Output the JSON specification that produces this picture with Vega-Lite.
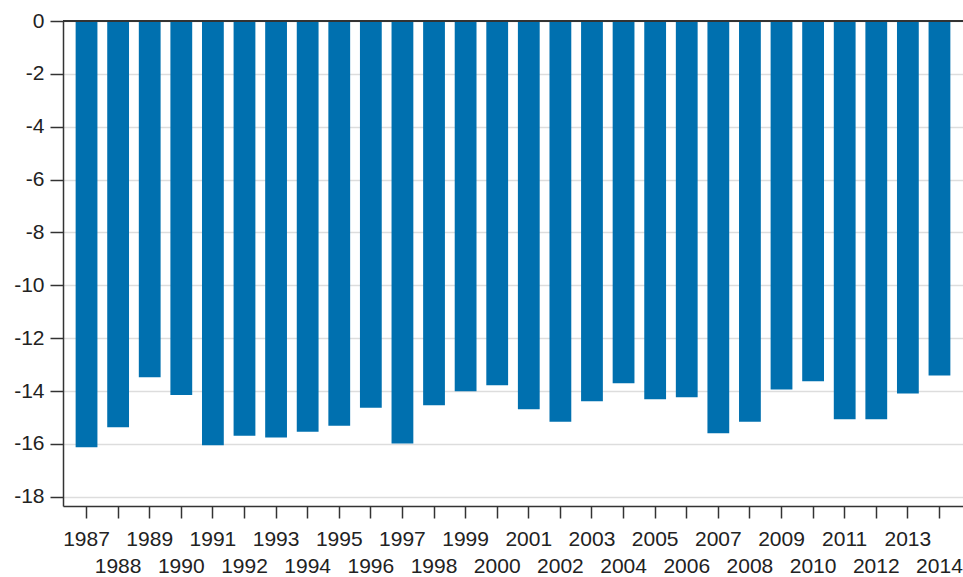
{
  "$schema": "https://vega.github.io/schema/vega-lite/v6.json",
  "width": 900,
  "height": 485,
  "autosize": {"type": "none"},
  "padding": {"left": 63, "top": 21, "right": 0, "bottom": 71},
  "background": "white",
  "config": {
    "view": {"stroke": null},
    "font": "Liberation Sans"
  },
  "data": {
    "values": [
      {"year": 1987, "value": -16.13},
      {"year": 1988, "value": -15.37},
      {"year": 1989, "value": -13.48},
      {"year": 1990, "value": -14.15},
      {"year": 1991, "value": -16.05},
      {"year": 1992, "value": -15.69},
      {"year": 1993, "value": -15.76},
      {"year": 1994, "value": -15.54},
      {"year": 1995, "value": -15.31},
      {"year": 1996, "value": -14.63},
      {"year": 1997, "value": -15.99},
      {"year": 1998, "value": -14.54},
      {"year": 1999, "value": -14.01},
      {"year": 2000, "value": -13.78},
      {"year": 2001, "value": -14.69},
      {"year": 2002, "value": -15.16},
      {"year": 2003, "value": -14.39},
      {"year": 2004, "value": -13.71},
      {"year": 2005, "value": -14.31},
      {"year": 2006, "value": -14.24},
      {"year": 2007, "value": -15.6},
      {"year": 2008, "value": -15.16},
      {"year": 2009, "value": -13.94},
      {"year": 2010, "value": -13.63},
      {"year": 2011, "value": -15.07},
      {"year": 2012, "value": -15.07},
      {"year": 2013, "value": -14.09},
      {"year": 2014, "value": -13.41}
    ]
  },
  "layer": [
    {
      "mark": {"type": "bar", "color": "#0070af"},
      "encoding": {
        "x": {
          "field": "year",
          "type": "ordinal",
          "scale": {"paddingInner": 0.31, "paddingOuter": 0.4},
          "axis": {
            "title": null,
            "labelAngle": 0,
            "labelFontSize": 21,
            "labelColor": "#222",
            "labelPadding": {"condition": {"test": "datum.value % 2 == 0", "value": 37}, "value": 10},
            "labelOverlap": false,
            "tickSize": 12,
            "tickWidth": 1.5,
            "tickColor": "#333",
            "domainColor": "#333",
            "domainWidth": 1.5,
            "grid": false
          }
        },
        "y": {
          "field": "value",
          "type": "quantitative",
          "scale": {"domain": [-18.35, 0], "nice": false, "zero": false},
          "axis": {
            "title": null,
            "values": [0, -2, -4, -6, -8, -10, -12, -14, -16, -18],
            "labelExpr": "'' + datum.value",
            "labelFontSize": 21,
            "labelColor": "#222",
            "labelPadding": 6,
            "tickSize": 13,
            "tickWidth": 1.5,
            "tickColor": "#333",
            "domainColor": "#333",
            "domainWidth": 1.5,
            "gridColor": "#dddddd",
            "gridWidth": 1.5
          }
        }
      }
    },
    {
      "mark": {"type": "rule", "color": "#333", "strokeWidth": 2},
      "encoding": {"y": {"datum": 0}}
    }
  ]
}
